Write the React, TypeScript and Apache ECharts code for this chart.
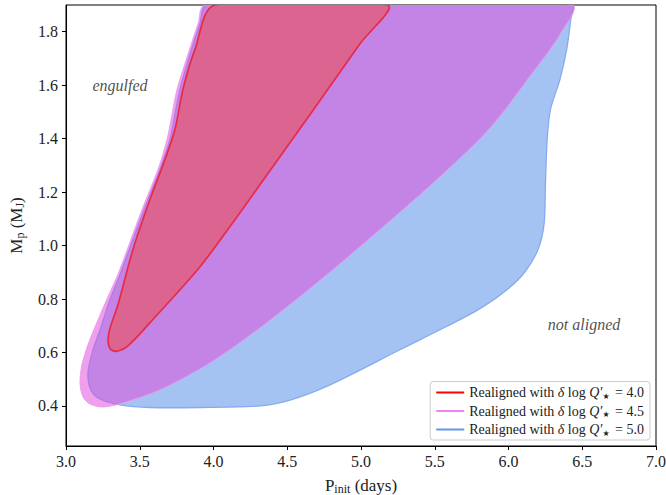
import React, { useEffect, useRef } from "react";
import * as echarts from "echarts";

// Contours (x = P_init in days, y = M_p in M_J)
const blueContour: number[][] = [
  [3.956, 1.9], [6.43, 1.9], [6.422, 1.847], [6.395, 1.735], [6.349, 1.622], [6.285, 1.51],
  [6.262, 1.397], [6.25, 1.221], [6.241, 1.079], [6.2, 0.985], [6.112, 0.902], [5.99, 0.835],
  [5.807, 0.764], [5.576, 0.696], [5.264, 0.61], [4.79, 0.479], [4.519, 0.422], [4.315, 0.4],
  [3.908, 0.394], [3.569, 0.394], [3.366, 0.404], [3.231, 0.426], [3.169, 0.46], [3.149, 0.524],
  [3.183, 0.61], [3.231, 0.685], [3.298, 0.797], [3.366, 0.891], [3.522, 1.124], [3.637, 1.285],
  [3.705, 1.397], [3.739, 1.491], [3.773, 1.585], [3.841, 1.716], [3.908, 1.829],
];

const violetContour: number[][] = [
  [3.942, 1.9], [6.43, 1.9], [6.349, 1.79], [6.146, 1.634], [5.875, 1.44], [5.55, 1.265],
  [5.129, 1.06], [4.722, 0.87], [4.315, 0.692], [3.976, 0.561], [3.637, 0.46], [3.386, 0.411],
  [3.251, 0.396], [3.163, 0.407], [3.115, 0.434], [3.095, 0.486], [3.108, 0.554], [3.149, 0.629],
  [3.217, 0.722], [3.285, 0.809], [3.359, 0.902], [3.508, 1.124], [3.624, 1.285], [3.685, 1.397],
  [3.719, 1.491], [3.753, 1.585], [3.827, 1.716], [3.895, 1.829],
];

const redContour: number[][] = [
  [4.01, 1.9], [5.18, 1.9], [4.993, 1.755], [4.675, 1.506], [4.363, 1.265], [4.13, 1.085],
  [3.9, 0.915], [3.6, 0.73], [3.42, 0.625], [3.335, 0.604], [3.298, 0.615], [3.285, 0.645],
  [3.298, 0.69], [3.353, 0.78], [3.454, 0.985], [3.569, 1.172], [3.671, 1.322], [3.739, 1.435],
  [3.793, 1.585], [3.875, 1.735],
];

const yTicks = [0.4, 0.6, 0.8, 1.0, 1.2, 1.4, 1.6, 1.8];
const legendNames = [
  "Realigned with δ log Q′★ = 4.0",
  "Realigned with δ log Q′★ = 4.5",
  "Realigned with δ log Q′★ = 5.0",
];
const legendValues = ["4.0", "4.5", "5.0"];
const annotations = [
  { name: "engulfed", value: [3.366, 1.6] },
  { name: "not aligned", value: [6.512, 0.704] },
];

const FONT = "Liberation Serif";

function contourSeries(name: string, data: number[][], fill: string, stroke: string, lw: number, legendColor: string) {
  return {
    type: "custom",
    name,
    coordinateSystem: "cartesian2d",
    clip: true,
    silent: true,
    itemStyle: { color: legendColor },
    encode: { x: 0, y: 1 },
    data,
    renderItem: (params: any, api: any) => {
      if (params.dataIndex !== 0) return null;
      const pts = data.map((p) => api.coord(p));
      return {
        type: "polygon",
        shape: { points: pts, smooth: 0.3 },
        style: { fill, stroke, lineWidth: lw },
      };
    },
  };
}

export default function App() {
  const ref = useRef<HTMLDivElement>(null);
  useEffect(() => {
    if (!ref.current) return;
    const chart = echarts.init(ref.current, null, { renderer: "svg" });
    const sub = { fontSize: 12, fontFamily: FONT, color: "#222", verticalAlign: "bottom", padding: [7, 0, 0, 0] };
    const option: any = {
      animation: false,
      backgroundColor: "#fff",
      grid: {
        left: 66, right: 10, top: 5, bottom: 49,
        containLabel: false, outerBoundsMode: "none",
        show: true, borderColor: "#000", borderWidth: 1,
      },
      xAxis: {
        type: "value",
        min: 3,
        max: 7,
        interval: 0.5,
        axisLine: { show: true, onZero: false, lineStyle: { color: "#000", width: 1 } },
        axisTick: { show: true, length: 4, lineStyle: { color: "#000" } },
        splitLine: { show: false },
        axisLabel: { formatter: (v: number) => v.toFixed(1), color: "#222", fontFamily: FONT, fontSize: 16, margin: 7 },
        name: "P{s|init} (days)",
        nameLocation: "middle",
        nameGap: 30,
        nameTextStyle: { color: "#222", fontFamily: FONT, fontSize: 17, rich: { s: sub } },
      },
      yAxis: {
        type: "value",
        min: 0.25,
        max: 1.9,
        axisLine: { show: true, onZero: false, lineStyle: { color: "#000", width: 1 } },
        axisTick: { show: true, length: 4, customValues: yTicks, lineStyle: { color: "#000" } },
        splitLine: { show: false },
        axisLabel: { customValues: yTicks, formatter: (v: number) => v.toFixed(1), color: "#222", fontFamily: FONT, fontSize: 16, margin: 8 },
        name: "M{s|p} (M{s|J})",
        nameLocation: "middle",
        nameGap: 40,
        nameRotate: 90,
        nameTextStyle: { color: "#222", fontFamily: FONT, fontSize: 17, rich: { s: sub } },
      },
      legend: {
        orient: "vertical",
        right: 16,
        bottom: 55,
        backgroundColor: "rgba(255,255,255,0.85)",
        borderColor: "#ccc",
        borderWidth: 1,
        borderRadius: 3,
        padding: [4, 6, 3, 6],
        itemGap: 4,
        itemWidth: 28,
        itemHeight: 2,
        icon: "rect",
        data: [
          { name: legendNames[0], itemStyle: { color: "#ff0000" } },
          { name: legendNames[1], itemStyle: { color: "#ee82ee" } },
          { name: legendNames[2], itemStyle: { color: "#6495ed" } },
        ],
        formatter: (name: string) => {
          const i = legendNames.indexOf(name);
          return `Realigned with {i|δ} log {i|Q′}{s|★} = ${legendValues[i]}`;
        },
        textStyle: {
          color: "#222",
          fontFamily: FONT,
          fontSize: 14,
          rich: {
            i: { fontStyle: "italic", fontFamily: FONT, fontSize: 14, color: "#222" },
            s: { fontFamily: "DejaVu Sans", fontSize: 8, color: "#222", verticalAlign: "bottom", padding: [7, 2, 0, 0] },
          },
        },
      },
      series: [
        contourSeries(legendNames[2], blueContour, "#a5c3f2", "#86aaf0", 1.3, "#6495ed"),
        contourSeries(legendNames[1], violetContour, "rgba(223,75,219,0.53)", "rgba(240,150,238,0.9)", 1, "#ee82ee"),
        contourSeries(legendNames[0], redContour, "#dc6490", "#ea2a45", 1.7, "#ff0000"),
        {
          type: "scatter",
          silent: true,
          symbolSize: 0,
          data: annotations,
          label: {
            show: true,
            position: "inside",
            formatter: "{b}",
            fontStyle: "italic",
            fontFamily: FONT,
            fontSize: 16,
            color: "#222",
          },
        },
      ],
    };
    chart.setOption(option);
    return () => chart.dispose();
  }, []);
  return <div ref={ref} style={{ width: 666, height: 495, position: "absolute", left: 0, top: 0 }} />;
}
